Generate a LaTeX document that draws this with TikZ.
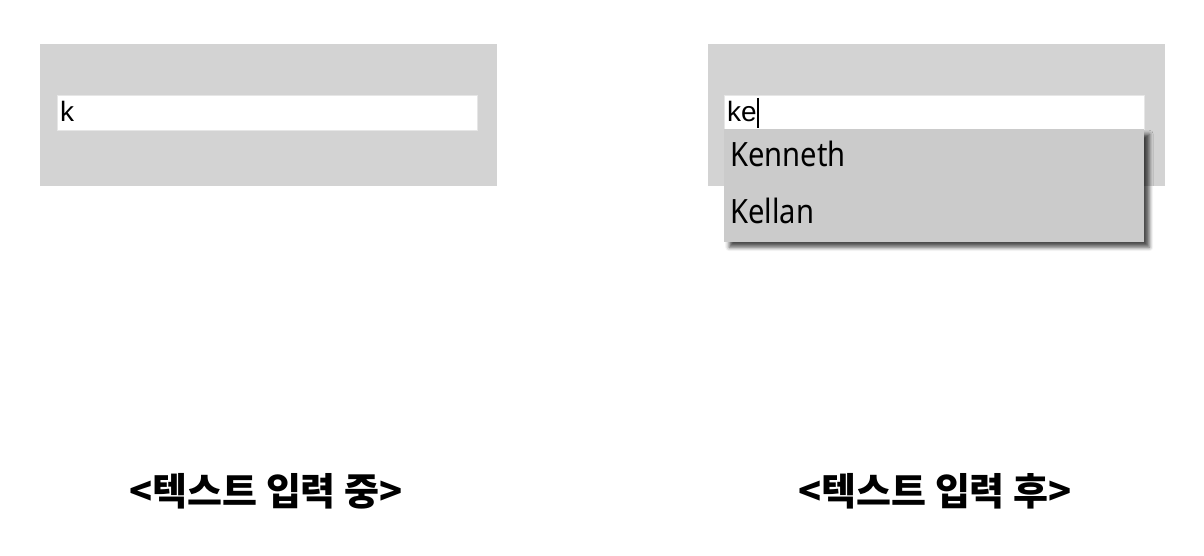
\documentclass[tikz,border=0pt]{standalone}
\usepackage{fontspec}
\setmainfont{Liberation Sans}
\newfontfamily\listfont[FakeStretch=0.87]{Noto Sans}
\newfontfamily\krfont{Noto Sans CJK KR}
\usetikzlibrary{shadows.blur}
\definecolor{panelgray}{HTML}{D3D3D3}
\definecolor{dropgray}{HTML}{CBCBCB}
\definecolor{boxedge}{HTML}{E6E6E6}
\tikzset{
  panel/.style={fill=panelgray, draw=none},
  inputbox/.style={fill=white, draw=boxedge, line width=0.8pt},
  typed/.style={anchor=base west, inner sep=0pt, font=\fontsize{28}{32}\selectfont},
  item/.style={anchor=base west, inner sep=0pt, font=\listfont\fontsize{33.5}{38}\selectfont},
  caption/.style={anchor=base, inner sep=0pt, font=\krfont\bfseries\fontsize{38}{44}\selectfont},
}
\begin{document}
\begin{tikzpicture}[x=1pt,y=-1pt]
\useasboundingbox (0,0) rectangle (1204,556);
% left panel
\fill[panel] (40,44) rectangle (497,186);
\filldraw[inputbox] (57,95) rectangle (477,130);
\node[typed] (k) at (60,122) {k};
% right panel
\fill[panel] (708,44) rectangle (1165,186);
\filldraw[inputbox] (724,95) rectangle (1144,129);
\node[typed] (ke) at (727,122) {ke};
\coordinate (curtop) at (758,98);
\coordinate (curbot) at (758,128);
\draw[line width=1.4pt] (curtop) -- (curbot);
\node[fill=dropgray, draw=none, inner sep=0pt, minimum width=420pt, minimum height=113pt, anchor=north west,
  blur shadow={shadow xshift=5pt, shadow yshift=-5pt, shadow blur radius=4pt, shadow opacity=70}] (drop) at (724,129) {};
\node[item] (ken) at (730,167) {Kenneth};
\node[item] (kel) at (730,223) {Kellan};
% captions
\node[caption] (c1) at (266,505) {<텍스트 입력 중>};
\node[caption] (c2) at (935,505) {<텍스트 입력 후>};
\end{tikzpicture}
\end{document}
